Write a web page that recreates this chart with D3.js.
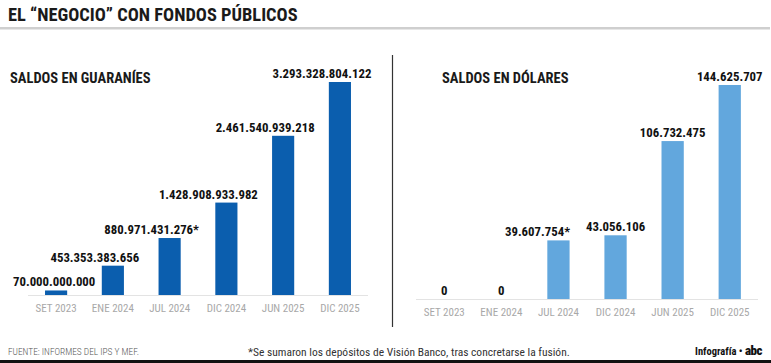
<!DOCTYPE html>
<html>
<head>
<meta charset="utf-8">
<script src="https://cdn.jsdelivr.net/npm/d3@7/dist/d3.min.js"></script>
<style>
  html, body { margin: 0; padding: 0; background: #fff; }
  svg { display: block; }
  text { font-family: "Roboto Condensed", "Liberation Sans Narrow", "DejaVu Sans Condensed", "DejaVu Sans", sans-serif; font-stretch: condensed; }
</style>
</head>
<body>
<svg id="chart" width="771" height="363"></svg>
<script>
const title = "EL \u201CNEGOCIO\u201D CON FONDOS P\u00DABLICOS";
const categories = ["SET 2023", "ENE 2024", "JUL 2024", "DIC 2024", "JUN 2025", "DIC 2025"];
const guaraniesValues = [70000000000, 453353383656, 880971431276, 1428908933982, 2461540939218, 3293328804122];
const guaraniesLabels = ["70.000.000.000", "453.353.383.656", "880.971.431.276*", "1.428.908.933.982", "2.461.540.939.218", "3.293.328.804.122"];
const dolaresValues = [0, 0, 39607754, 43056106, 106732475, 144625707];
const dolaresLabels = ["0", "0", "39.607.754*", "43.056.106", "106.732.475", "144.625.707"];
const panelTitles = ["SALDOS EN GUARAN\u00CDES", "SALDOS EN D\u00D3LARES"];
const sourceText = "FUENTE: INFORMES DEL IPS Y MEF.";
const noteText = "*Se sumaron los dep\u00F3sitos de Visi\u00F3n Banco, tras concretarse la fusi\u00F3n.";

const svg = d3.select("#chart");

// Title
svg.append("text").attr("x", 8).attr("y", 21)
  .attr("font-size", 18.4).attr("font-weight", 700).attr("fill", "#1a1a1a")
  .text(title);
svg.append("rect").attr("x", 0).attr("y", 27).attr("width", 770).attr("height", 2.5).attr("fill", "#cfcfcf");

// Divider
svg.append("line").attr("x1", 392.5).attr("x2", 392.5).attr("y1", 55).attr("y2", 327)
  .attr("stroke", "#333").attr("stroke-width", 1.2);

function panel(cfg) {
  const g = svg.append("g");
  const x = d3.scaleBand().domain(categories).range(cfg.xRange).paddingInner(0.61).paddingOuter(0.3);
  const y = d3.scaleLinear().domain([0, d3.max(cfg.values)]).range([cfg.base, cfg.top]);

  g.append("text").attr("x", cfg.titleX).attr("y", 83)
    .attr("font-size", 14.5).attr("font-weight", 700).attr("fill", "#1a1a1a")
    .text(cfg.title);

  g.append("line").attr("x1", cfg.xRange[0]).attr("x2", cfg.xRange[1])
    .attr("y1", cfg.base + 0.5).attr("y2", cfg.base + 0.5)
    .attr("stroke", "#e3e3e3").attr("stroke-width", 1.2);

  const data = categories.map((c, i) => ({ c, v: cfg.values[i], l: cfg.labels[i] }));

  g.selectAll("rect.bar").data(data).join("rect").attr("class", "bar")
    .attr("x", d => x(d.c)).attr("width", x.bandwidth())
    .attr("y", d => y(d.v)).attr("height", d => y(0) - y(d.v))
    .attr("fill", cfg.color);

  const labels = g.selectAll("text.val").data(data).join("text").attr("class", "val")
    .attr("y", d => y(d.v) - 4)
    .attr("font-size", 12.8).attr("font-weight", 700).attr("fill", "#111")
    .attr("text-anchor", "start")
    .text(d => d.l);

  // initial centred placement
  labels.each(function(d) {
    d.w = this.getComputedTextLength();
    const cx = x(d.c) + x.bandwidth() / 2 + cfg.labelDx;
    d.lx = Math.max(cfg.labelMinX, cx - d.w / 2);
    d.ly = y(d.v) - 4;
  });
  // resolve overlaps right-to-left
  for (let i = data.length - 2; i >= 0; i--) {
    const a = data[i], b = data[i + 1];
    if (Math.abs(a.ly - b.ly) < 14 && a.lx + a.w > b.lx - 16) {
      a.lx = b.lx - 16 - a.w;
    }
  }
  labels.attr("x", d => d.lx);

  const axis = d3.axisBottom(x).tickSize(0).tickPadding(0);
  const ax = g.append("g").attr("transform", `translate(0,${cfg.base + 17})`).call(axis);
  ax.select(".domain").remove();
  ax.selectAll("text").attr("font-size", 11).attr("fill", "#a8a8a8").attr("dy", 0)
    .style("font-family", "\"Roboto Condensed\", \"Liberation Sans Narrow\", \"DejaVu Sans Condensed\", sans-serif")
    .style("font-stretch", "condensed");
}

panel({ title: panelTitles[0], titleX: 10, xRange: [28, 368], base: 295, top: 82,
  values: guaraniesValues, labels: guaraniesLabels, color: "#0b5eae", labelDx: -18, labelMinX: 13 });
panel({ title: panelTitles[1], titleX: 442, xRange: [416, 758], base: 299, top: 85,
  values: dolaresValues, labels: dolaresLabels, color: "#62a7dd", labelDx: 0, labelMinX: 0 });

// Footer
svg.append("text").attr("x", 8).attr("y", 355)
  .attr("font-size", 9.4).attr("font-weight", 300).attr("fill", "#555").text(sourceText);
svg.append("text").attr("x", 248).attr("y", 355.5)
  .attr("font-size", 11.5).attr("font-weight", 400).attr("fill", "#333").text(noteText);
const credit = svg.append("text").attr("x", 762).attr("y", 355).attr("text-anchor", "end")
  .attr("font-size", 10.5).attr("fill", "#111");
credit.append("tspan").attr("font-weight", 700).text("Infograf\u00EDa");
credit.append("tspan").attr("font-weight", 700).text(" \u2022 ");
credit.append("tspan").attr("font-weight", 900).attr("font-size", 13).style("letter-spacing", "-0.5px").text("abc");
svg.append("rect").attr("x", 0).attr("y", 360).attr("width", 771).attr("height", 3).attr("fill", "#111");
</script>
</body>
</html>
